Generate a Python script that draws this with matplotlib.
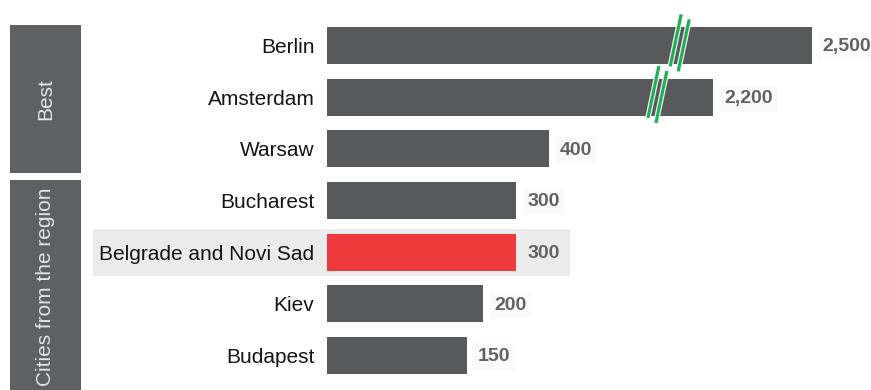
import numpy as np
import matplotlib
matplotlib.use("Agg")
import matplotlib.pyplot as plt
import matplotlib.patheffects as pe
import matplotlib.transforms as mtransforms
from matplotlib.path import Path
from matplotlib.patches import Rectangle

cities = ["Berlin", "Amsterdam", "Warsaw", "Bucharest",
          "Belgrade and Novi Sad", "Kiev", "Budapest"]
values = [2500, 2200, 400, 300, 300, 200, 150]
groups = ["Best", "Cities from the region"]
group_sizes = [3, 4]
highlight = "Belgrade and Novi Sad"

# where the two long bars get their "//" break marks (data units)
break_at = {"Berlin": 2098, "Amsterdam": 2030}

GREY = "#58595b"
RED = "#ee3a3d"
GREEN = "#1fae55"
BAND = "#ebebeb"

plt.rcParams["font.family"] = ["Liberation Sans", "DejaVu Sans"]

# broken x axis: the stretch between GAP_LO and GAP_HI is cut out
GAP_LO, GAP_HI = 700, 2000


def fwd(v):
    v = np.asarray(v, dtype=float)
    return np.where(v <= GAP_LO, v,
                    np.where(v >= GAP_HI, v - (GAP_HI - GAP_LO), GAP_LO))


def inv(u):
    u = np.asarray(u, dtype=float)
    return np.where(u <= GAP_LO, u, u + (GAP_HI - GAP_LO))


fig = plt.figure(figsize=(8.71, 3.90), dpi=100)
fig.patch.set_facecolor("white")
ax = fig.add_axes([0.3754, 0.0223, 0.6246, 0.9274])
ax.set_xscale("function", functions=(fwd, inv))

x_start = -277
ypos = np.arange(len(cities))
colors = [RED if c == highlight else GREY for c in cities]
widths = np.array(values) - x_start
ax.barh(ypos, widths, left=x_start, height=0.72, color=colors, zorder=2)

ax.set_xlim(x_start, 2681)
ax.set_ylim(len(cities) - 0.5, -0.5)

for sp in ax.spines.values():
    sp.set_visible(False)
ax.set_xticks([])
ax.set_yticks(ypos)
ax.set_yticklabels(cities, fontsize=15, color="#141414")
ax.tick_params(axis="y", length=0, pad=9)

# value labels
for i, (c, v) in enumerate(zip(cities, values)):
    fc = BAND if c == highlight else "#fafafa"
    ax.annotate(f"{v:,}", xy=(v, i), xytext=(8, -1), textcoords="offset points",
                ha="left", va="center", fontsize=14, fontweight="bold",
                color="#626262", annotation_clip=False,
                bbox=dict(boxstyle="square,pad=0.25", fc=fc, ec="none"))

# grey band behind the highlighted row
hi = cities.index(highlight)
band_tr = mtransforms.blended_transform_factory(ax.transAxes, ax.transData)
ax.add_patch(Rectangle((-0.430, hi - 0.455), 0.877, 0.91, transform=band_tr,
                       fc=BAND, ec="none", zorder=0, clip_on=False))

# break marks: two parallel slanted strokes
brk = Path([(-9.5, -23.5), (1.5, 28.5), (-1.5, -28.5), (9.5, 23.5)],
           [Path.MOVETO, Path.LINETO, Path.MOVETO, Path.LINETO])
for name, xb in break_at.items():
    i = cities.index(name)
    ax.plot([xb], [i - 0.05], marker=brk, markersize=41, linestyle="none",
            markerfacecolor="none", markeredgecolor=GREEN, markeredgewidth=2.2,
            zorder=4, clip_on=False,
            path_effects=[pe.Stroke(linewidth=4, foreground="#e8f3ec"), pe.Normal()])

# group boxes on the far left
box_tr = mtransforms.blended_transform_factory(fig.transFigure, ax.transData)
r0 = 0
for k, (label, n) in enumerate(zip(groups, group_sizes)):
    r1 = r0 + n - 1
    top = r0 - 0.39
    bottom = r1 + (0.47 if k < len(groups) - 1 else 0.72)
    ax.add_patch(Rectangle((0.0115, top), 0.0815, bottom - top, transform=box_tr,
                           fc="#5f6062", ec="none", clip_on=False, zorder=1))
    ax.text(0.0522, (top + bottom) / 2, label, transform=box_tr, rotation=90,
            ha="center", va="center", fontsize=15, color="#e4e4e4", clip_on=False)
    r0 += n

fig.savefig("out.png", dpi=100, facecolor="white")
